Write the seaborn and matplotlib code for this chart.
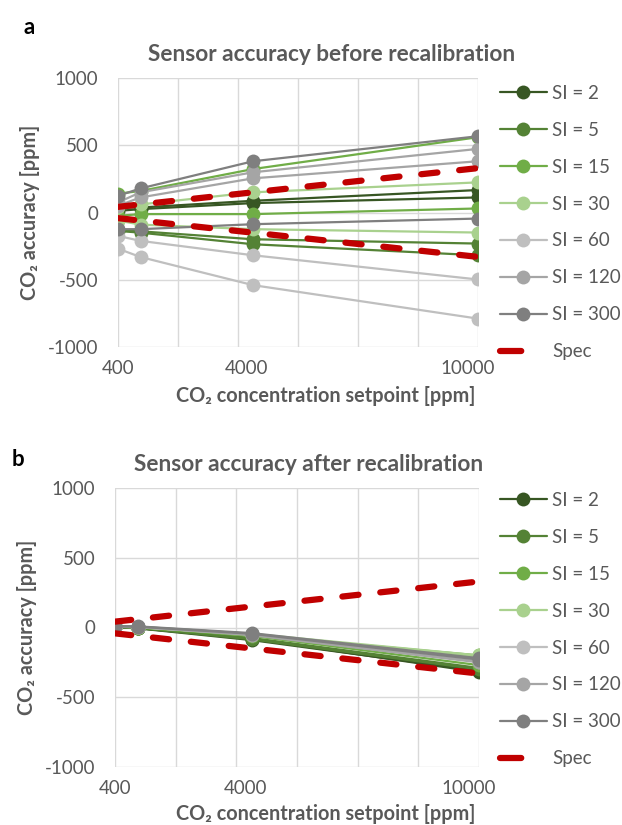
import matplotlib
matplotlib.use("Agg")
import matplotlib.pyplot as plt
import matplotlib.transforms as mtrans
import numpy as np
import pandas as pd
import seaborn as sns
from matplotlib.lines import Line2D

# ---------------- data ----------------
setpoints = [400, 1000, 4000, 10000]
si_labels = ["SI = 2", "SI = 5", "SI = 15", "SI = 30", "SI = 60", "SI = 120", "SI = 300"]
si_colors = ["#375623", "#548235", "#70AD47", "#A9D18E", "#BFBFBF", "#A5A5A5", "#7F7F7F"]

# before recalibration: two sensors per sampling interval
before_si2 = [[37, 37, 87, 167], [12, 25, 70, 112]]
before_si5 = [[-130, -140, -199, -231], [-137, -150, -236, -318]]
before_si15 = [[140, 160, 323, 560], [-25, -12, -12, 30]]
before_si30 = [[40, 60, 150, 224], [-60, -90, -124, -149]]
before_si60 = [[-174, -211, -318, -498], [-269, -331, -540, -789]]
before_si120 = [[75, 150, 299, 473], [50, 112, 254, 381]]
before_si300 = [[124, 179, 381, 567], [-124, -124, -87, -45]]

# after recalibration
after_si2 = [[5, -5, -80, -320], [3, -6, -90, -310]]
after_si5 = [[5, -3, -85, -300], [4, -4, -75, -290]]
after_si15 = [[8, 0, -60, -270], [6, 2, -55, -200]]
after_si30 = [[10, 5, -45, -200], [8, 4, -50, -215]]
after_si60 = [[5, 2, -50, -240], [6, 3, -48, -230]]
after_si120 = [[8, 5, -55, -250], [7, 4, -52, -245]]
after_si300 = [[10, 8, -40, -220], [9, 6, -45, -230]]

spec_upper = [42, 60, 150, 330]
spec_lower = [-42, -60, -150, -330]

x_ticks = [400, 4000, 10000]
x_grid = [400, 2000, 3600, 5200, 6800, 8400, 10000]
y_ticks = [-1000, -500, 0, 500, 1000]

before = [before_si2, before_si5, before_si15, before_si30, before_si60, before_si120, before_si300]
after = [after_si2, after_si5, after_si15, after_si30, after_si60, after_si120, after_si300]


def to_long(series_sets):
    rows = []
    for lab, sensors in zip(si_labels, series_sets):
        for k, vals in enumerate(sensors):
            for x, v in zip(setpoints, vals):
                rows.append({"setpoint": x, "accuracy": v, "SI": lab, "sensor": f"s{k}"})
    return pd.DataFrame(rows)


spec_df = pd.DataFrame({
    "setpoint": setpoints * 2,
    "accuracy": spec_upper + spec_lower,
    "bound": ["upper"] * 4 + ["lower"] * 4,
})

# ---------------- style ----------------
sns.set_theme(style="white")
plt.rcParams["font.family"] = ["Lato", "DejaVu Sans"]
TXT = "#595959"
GRID = "#D9D9D9"
RED = "#C00000"
palette = dict(zip(si_labels, si_colors))
DASH = (2.6, 3.5)

fig = plt.figure(figsize=(6.22, 8.25), dpi=100)
ax_a = fig.add_axes([118 / 622, 1 - 347 / 825, 360 / 622, 269 / 825])
ax_b = fig.add_axes([115 / 622, 1 - 767 / 825, 364 / 622, 279 / 825])


def draw(ax, df, title, title_x, xlabel_x, xlabel_y, legend_top):
    for gx in x_grid:
        ax.axvline(gx, color=GRID, linewidth=1.0, zorder=0)
    for gy in y_ticks:
        ax.axhline(gy, color=GRID, linewidth=1.0, zorder=0)
    sns.lineplot(data=df, x="setpoint", y="accuracy", hue="SI", units="sensor",
                 estimator=None, palette=palette, hue_order=si_labels,
                 marker="o", markersize=10, markeredgewidth=0, linewidth=1.6,
                 sort=False, legend=False, ax=ax, zorder=3)
    for b in ["upper", "lower"]:
        sns.lineplot(data=spec_df[spec_df["bound"] == b], x="setpoint", y="accuracy",
                     color=RED, linewidth=4.5, linestyle=(0, DASH), sort=False,
                     dash_capstyle="round", legend=False, ax=ax, zorder=4)
    ax.set_xlim(400, 10000)
    ax.set_ylim(-1000, 1000)
    ax.set_xticks(x_ticks)
    ax.set_xticklabels([str(t) for t in x_ticks])
    ax.set_yticks(y_ticks)
    ax.set_yticklabels([str(t) for t in y_ticks])
    ax.grid(False)
    for s in ax.spines.values():
        s.set_visible(False)
    ax.tick_params(axis="both", which="both", length=0, labelsize=13.5, colors=TXT)
    ax.tick_params(axis="x", pad=9)
    ax.tick_params(axis="y", pad=14)
    # Excel-style label placement (labels slightly left of the tick value)
    for lab, dx in zip(ax.get_xticklabels(), [0, -6, -10]):
        lab.set_transform(lab.get_transform() +
                          mtrans.ScaledTranslation(dx / 100, 0, fig.dpi_scale_trans))
    ax.set_xlabel("CO₂ concentration setpoint [ppm]", fontsize=14.3, fontweight="bold",
                  color=TXT)
    ax.xaxis.set_label_coords(xlabel_x, xlabel_y)
    ax.set_ylabel("CO₂ accuracy [ppm]", fontsize=14.3, fontweight="bold", color=TXT,
                  labelpad=6)
    ax.set_title(title, fontsize=16.3, fontweight="bold", color=TXT, pad=12, x=title_x)

    handles = [Line2D([], [], color=c, marker="o", markersize=10, markeredgewidth=0,
                      linewidth=1.6) for c in si_colors]
    handles.append(Line2D([], [], color=RED, linewidth=4.5, linestyle=(0, (3.4, 10)),
                          dash_capstyle="round"))
    ax.legend(handles, si_labels + ["Spec"], loc="upper left",
              bbox_to_anchor=(500 / 622, legend_top), bbox_transform=fig.transFigure,
              frameon=False, fontsize=13.5, labelcolor=TXT, handlelength=2.5,
              handletextpad=0.3, labelspacing=1.06, borderaxespad=0, borderpad=0)


draw(ax_a, to_long(before), "Sensor accuracy before recalibration",
     (332 - 118) / 360, (326 - 118) / 360, -0.145, 1 - 85 / 825)
draw(ax_b, to_long(after), "Sensor accuracy after recalibration",
     (309 - 115) / 364, (326 - 115) / 364, -0.133, 1 - 492 / 825)

fig.text(23 / 622, 1 - 27 / 825, "a", fontsize=16, fontweight="bold", color="black",
         va="center")
fig.text(12 / 622, 1 - 459 / 825, "b", fontsize=16, fontweight="bold", color="black",
         va="center")

fig.savefig("out.png", dpi=100)
